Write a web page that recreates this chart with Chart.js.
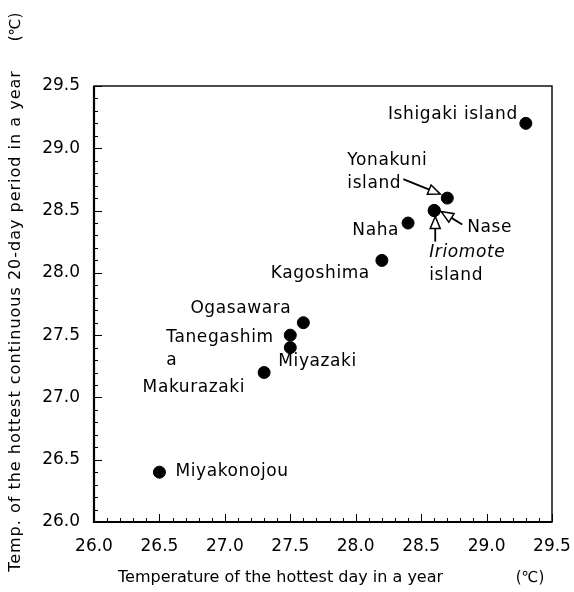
<!DOCTYPE html>
<html>
<head>
<meta charset="utf-8">
<script src="https://cdn.jsdelivr.net/npm/chart.js@4/dist/chart.umd.min.js"></script>
<style>
  html, body { margin: 0; padding: 0; background: #fff; }
  #wrap { width: 574px; height: 592px; }
</style>
</head>
<body>
<div id="wrap"><canvas id="c" width="574" height="592"></canvas></div>
<script>
// Stations and their two temperature measures (°C)
const stations = ['Ishigaki island', 'Yonakuni island', 'Iriomote island', 'Nase', 'Naha', 'Kagoshima',
                  'Ogasawara', 'Tanegashima', 'Miyazaki', 'Makurazaki', 'Miyakonojou'];
const hottestDay = [29.3, 28.7, 28.6, 28.6, 28.4, 28.2, 27.6, 27.5, 27.5, 27.3, 26.5];
const hottest20Days = [29.2, 28.6, 28.5, 28.5, 28.4, 28.1, 27.6, 27.5, 27.4, 27.2, 26.4];
const axisTicks = ['26.0', '26.5', '27.0', '27.5', '28.0', '28.5', '29.0', '29.5'];
const xTitle = 'Temperature of the hottest day in a year';
const yTitle = 'Temp. of the hottest continuous 20-day period in a year';
const unitLabel = '(℃)';

const FONT = '"DejaVu Sans", sans-serif';

// Label placement around each station marker (pixel offsets from the marker)
const labelLayout = {
  'Ishigaki island': { lines: ['Ishigaki island'], dx: -8, dy: -9, align: 'right' },
  'Yonakuni island': { lines: ['Yonakuni', 'island'], dx: -100, dy: -38, align: 'left' },
  'Iriomote island': { lines: ['Iriomote', 'island'], dx: -5, dy: 42, align: 'left', italicFirst: true },
  'Nase':            { lines: ['Nase'], dx: 33, dy: 17, align: 'left' },
  'Naha':            { lines: ['Naha'], dx: -9, dy: 8, align: 'right' },
  'Kagoshima':       { lines: ['Kagoshima'], dx: -12, dy: 13, align: 'right' },
  'Ogasawara':       { lines: ['Ogasawara'], dx: -12, dy: -14, align: 'right' },
  'Tanegashima':     { lines: ['Tanegashim', 'a'], dx: -124, dy: 2, align: 'left' },
  'Miyazaki':        { lines: ['Miyazaki'], dx: -12, dy: 14, align: 'left' },
  'Makurazaki':      { lines: ['Makurazaki'], dx: -19, dy: 15, align: 'right' },
  'Miyakonojou':     { lines: ['Miyakonojou'], dx: 16, dy: -1, align: 'left' }
};

// Pointer arrows: tail and tip as pixel offsets from the marker
const arrowLayout = {
  'Yonakuni island': { from: [-44, -19], to: [-7, -4] },
  'Nase':            { from: [28, 14], to: [7, 1] },
  'Iriomote island': { from: [1, 31], to: [1, 6] }
};

function drawArrow(ctx, x1, y1, x2, y2) {
  const ang = Math.atan2(y2 - y1, x2 - x1);
  const len = 12, half = 5;
  const bx = x2 - len * Math.cos(ang), by = y2 - len * Math.sin(ang);
  ctx.save();
  ctx.beginPath();
  ctx.moveTo(x1, y1);
  ctx.lineTo(bx, by);
  ctx.lineWidth = 1.8;
  ctx.strokeStyle = '#000';
  ctx.stroke();
  ctx.beginPath();
  ctx.moveTo(x2, y2);
  ctx.lineTo(bx + half * Math.sin(ang), by - half * Math.cos(ang));
  ctx.lineTo(bx - half * Math.sin(ang), by + half * Math.cos(ang));
  ctx.closePath();
  ctx.fillStyle = '#fff';
  ctx.fill();
  ctx.lineWidth = 1.5;
  ctx.stroke();
  ctx.restore();
}

const framePlugin = {
  id: 'frame',
  beforeDatasetsDraw(chart) {
    const { ctx, chartArea: a, scales: { x, y } } = chart;
    ctx.save();
    ctx.strokeStyle = '#000';
    // inward tick marks, every 0.1 with longer marks every 0.5
    ctx.lineWidth = 1;
    for (let i = 0; i <= 35; i++) {
      const v = 26 + i * 0.1;
      const L = (i % 5 === 0) ? 8 : 4;
      const px = Math.round(x.getPixelForValue(v)) + 0.5;
      ctx.beginPath(); ctx.moveTo(px, a.bottom); ctx.lineTo(px, a.bottom - L); ctx.stroke();
      const py = Math.round(y.getPixelForValue(v)) + 0.5;
      ctx.beginPath(); ctx.moveTo(a.left, py); ctx.lineTo(a.left + L, py); ctx.stroke();
    }
    // frame
    ctx.lineWidth = 1.4;
    ctx.strokeRect(a.left, a.top, a.right - a.left, a.bottom - a.top);
    ctx.lineWidth = 2.2;
    ctx.beginPath();
    ctx.moveTo(a.left, a.top); ctx.lineTo(a.left, a.bottom); ctx.lineTo(a.right, a.bottom);
    ctx.stroke();
    ctx.restore();
  },
  afterDatasetsDraw(chart) {
    const { ctx, scales: { x, y } } = chart;
    ctx.save();
    ctx.textBaseline = 'middle';
    ctx.letterSpacing = '0.6px';
    stations.forEach((name, i) => {
      const px = x.getPixelForValue(hottestDay[i]);
      const py = y.getPixelForValue(hottest20Days[i]);
      const lab = labelLayout[name];
      ctx.fillStyle = '#000';
      lab.lines.forEach((t, k) => {
        ctx.font = (lab.italicFirst && k === 0 ? 'italic ' : '') + '17px ' + FONT;
        ctx.textAlign = lab.align;
        ctx.fillText(t, px + lab.dx, py + lab.dy + k * 23);
      });
      const ar = arrowLayout[name];
      if (ar) drawArrow(ctx, px + ar.from[0], py + ar.from[1], px + ar.to[0], py + ar.to[1]);
    });
    ctx.fillStyle = '#000';
    // axis titles and unit marks
    ctx.letterSpacing = '0px';
    ctx.font = '16px ' + FONT;
    ctx.textAlign = 'left';
    ctx.fillText(xTitle, 118, 578);
    ctx.font = '15px ' + FONT;
    ctx.textAlign = 'center';
    ctx.fillText(unitLabel, 530, 578);
    ctx.save();
    ctx.translate(16, 321);
    ctx.rotate(-Math.PI / 2);
    ctx.font = '16px ' + FONT;
    ctx.letterSpacing = '1px';
    ctx.fillText(yTitle, 0, 0);
    ctx.restore();
    ctx.save();
    ctx.translate(16, 27);
    ctx.rotate(-Math.PI / 2);
    ctx.font = '15px ' + FONT;
    ctx.fillText(unitLabel, 0, 0);
    ctx.restore();
    ctx.restore();
  }
};

new Chart(document.getElementById('c'), {
  type: 'scatter',
  data: {
    datasets: [{
      data: stations.map((s, i) => ({ x: hottestDay[i], y: hottest20Days[i] })),
      backgroundColor: '#000',
      borderColor: '#000',
      pointRadius: 6,
      pointHoverRadius: 6
    }]
  },
  options: {
    responsive: false,
    animation: false,
    devicePixelRatio: 1,
    layout: { padding: { top: 86, right: 22, left: 0, bottom: 0 } },
    plugins: { legend: { display: false }, tooltip: { enabled: false } },
    scales: {
      x: {
        type: 'linear', min: 26, max: 29.5,
        afterFit(s) { s.height = 70; s.paddingRight = 0; s.paddingLeft = 0; },
        afterBuildTicks(s) { s.ticks = axisTicks.map(v => ({ value: parseFloat(v) })); },
        grid: { display: false, drawTicks: false },
        border: { display: false },
        ticks: { color: '#000', padding: 14, font: { family: FONT, size: 17 },
                 callback: v => Number(v).toFixed(1), maxRotation: 0, autoSkip: false }
      },
      y: {
        type: 'linear', min: 26, max: 29.5,
        afterFit(s) { s.width = 94; s.paddingTop = 0; s.paddingBottom = 0; },
        afterBuildTicks(s) { s.ticks = axisTicks.map(v => ({ value: parseFloat(v) })); },
        grid: { display: false, drawTicks: false },
        border: { display: false },
        ticks: { color: '#000', padding: 14, font: { family: FONT, size: 17 },
                 callback: v => Number(v).toFixed(1), autoSkip: false }
      }
    }
  },
  plugins: [framePlugin]
});
</script>
</body>
</html>
